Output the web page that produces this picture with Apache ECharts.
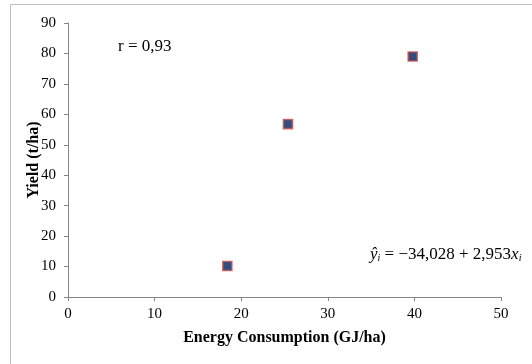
<!DOCTYPE html>
<html>
<head>
<meta charset="utf-8">
<script src="https://cdn.jsdelivr.net/npm/echarts@6/dist/echarts.min.js"></script>
<style>
  html, body { margin: 0; padding: 0; background: #fff; }
  #chart { width: 532px; height: 364px; }
</style>
</head>
<body>
<div id="chart"></div>
<script>
// values
const energy = [18.4, 25.4, 39.8];
const yieldVals = [10.2, 56.8, 79.0];
const xTicks = [0, 10, 20, 30, 40, 50];
const yTicks = [0, 10, 20, 30, 40, 50, 60, 70, 80, 90];

const serif = '"Liberation Serif", "DejaVu Serif", serif';
const axisGray = '#868686';

const myChart = echarts.init(document.getElementById('chart'));

myChart.setOption({
  animation: false,
  grid: {
    left: 68,
    right: 31,
    top: 23,
    bottom: 67
  },
  xAxis: {
    type: 'value',
    min: xTicks[0],
    max: xTicks[xTicks.length - 1],
    interval: 10,
    name: 'Energy Consumption (GJ/ha)',
    nameLocation: 'middle',
    nameGap: 33,
    nameTextStyle: { fontFamily: serif, fontSize: 16, fontWeight: 'bold', color: '#000' },
    axisLine: { lineStyle: { color: axisGray } },
    axisTick: { show: true, length: 4, lineStyle: { color: axisGray } },
    axisLabel: { fontFamily: serif, fontSize: 15, color: '#000', margin: 10 },
    splitLine: { show: false }
  },
  yAxis: {
    type: 'value',
    min: yTicks[0],
    max: yTicks[yTicks.length - 1],
    interval: 10,
    name: 'Yield (t/ha)',
    nameLocation: 'middle',
    nameMoveOverlap: false,
    nameGap: 26,
    nameTextStyle: { fontFamily: serif, fontSize: 16, fontWeight: 'bold', color: '#000' },
    axisLine: { show: true, lineStyle: { color: axisGray } },
    axisTick: { show: true, length: 4, lineStyle: { color: axisGray } },
    axisLabel: { fontFamily: serif, fontSize: 15, color: '#000', margin: 12 },
    splitLine: { show: false }
  },
  graphic: [
    {
      type: 'rect',
      shape: { x: 10.5, y: 4.5, width: 600, height: 400 },
      style: { fill: 'none', stroke: '#bfbfbf', lineWidth: 1 },
      silent: true,
      z: -1
    },
    {
      type: 'text',
      left: 118,
      top: 38,
      style: { text: 'r = 0,93', font: '17px ' + serif, fill: '#000' }
    },
    {
      type: 'text',
      left: 370,
      top: 246,
      style: {
        text: '{i|ŷ}{s|i}{n| = −34,028 + 2,953}{i|x}{s|i}',
        rich: {
          i: { fontFamily: serif, fontSize: 17, fontStyle: 'italic', fill: '#000', verticalAlign: 'bottom' },
          s: { fontFamily: serif, fontSize: 10, fontStyle: 'italic', fill: '#000', padding: [8, 0, 0, 0], verticalAlign: 'bottom' },
          n: { fontFamily: serif, fontSize: 17, fill: '#000', verticalAlign: 'bottom' }
        }
      }
    }
  ],
  series: [
    {
      type: 'scatter',
      symbol: 'rect',
      symbolSize: 9,
      itemStyle: { color: '#002060', borderColor: '#c0504d', borderWidth: 1.6 },
      data: energy.map((e, i) => [e, yieldVals[i]])
    }
  ]
});
</script>
</body>
</html>
